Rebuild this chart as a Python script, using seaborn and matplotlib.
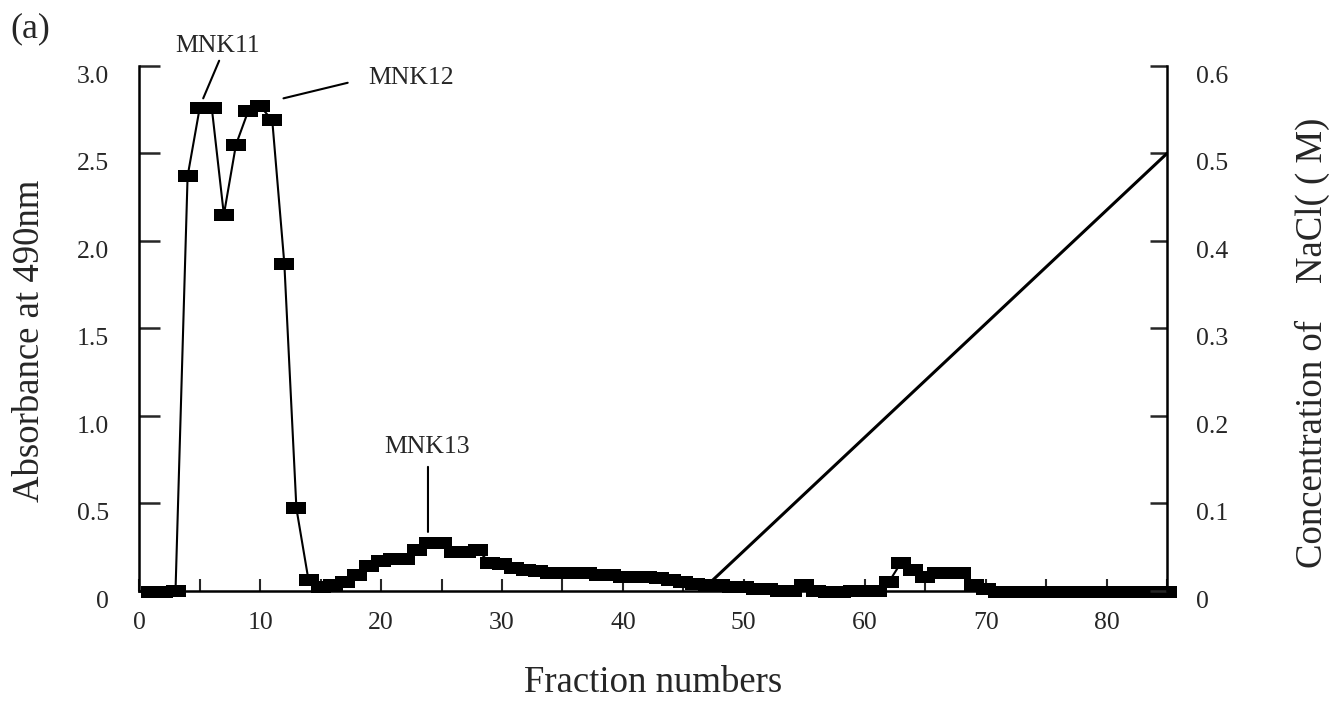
import matplotlib
matplotlib.use("Agg")
import matplotlib.pyplot as plt
import matplotlib.transforms as mtransforms
import seaborn as sns
import pandas as pd

# absorbance at 490 nm for each fraction
fraction = list(range(1, 86))
absorbance = [-0.01, -0.01, 0.0, 2.37, 2.76, 2.76, 2.15, 2.55, 2.74, 2.77,
              2.69, 1.87, 0.47, 0.06, 0.02, 0.03, 0.05, 0.09, 0.14, 0.17,
              0.18, 0.18, 0.23, 0.27, 0.27, 0.22, 0.22, 0.23, 0.16, 0.15,
              0.13, 0.12, 0.11, 0.10, 0.10, 0.10, 0.10, 0.09, 0.09, 0.08,
              0.08, 0.08, 0.07, 0.06, 0.05, 0.04, 0.03, 0.03, 0.02, 0.02,
              0.01, 0.01, 0.0, 0.0, 0.03, 0.0, -0.01, -0.01, 0.0, 0.0,
              0.0, 0.05, 0.16, 0.12, 0.08, 0.10, 0.10, 0.10, 0.03, 0.01,
              -0.01, -0.01, -0.01, -0.01, -0.01, -0.01, -0.01, -0.01, -0.01, -0.01,
              -0.01, -0.01, -0.01, -0.01, -0.01]

# NaCl gradient
nacl_fraction = [46.5, 85]
nacl_conc = [0.0, 0.5]

left_ticks = [0, 0.5, 1.0, 1.5, 2.0, 2.5, 3.0]
left_labels = ["0", "0.5", "1.0", "1.5", "2.0", "2.5", "3.0"]
right_ticks = [0, 0.1, 0.2, 0.3, 0.4, 0.5, 0.6]
right_labels = ["0", "0.1", "0.2", "0.3", "0.4", "0.5", "0.6"]

sns.set_theme(style="white")
plt.rcParams['font.family'] = ['Liberation Serif', 'DejaVu Serif']

df = pd.DataFrame({'fraction': fraction, 'abs': absorbance})
df2 = pd.DataFrame({'fraction': nacl_fraction, 'nacl': nacl_conc})

fig, ax = plt.subplots(figsize=(13.44, 7.08), dpi=100)
fig.subplots_adjust(left=0.1036, right=0.8683, bottom=0.1657, top=0.9068)

marker = [(-1, -0.6), (1, -0.6), (1, 0.6), (-1, 0.6)]
sns.lineplot(data=df, x='fraction', y='abs', ax=ax, color='black', linewidth=1.5,
             marker=marker, markersize=15, markeredgewidth=0,
             errorbar=None, clip_on=False)

ax2 = ax.twinx()
sns.lineplot(data=df2, x='fraction', y='nacl', ax=ax2, color='black', linewidth=2.2,
             errorbar=None)

ax.set_xlim(0, 85)
ax.set_ylim(0, 3.0)
ax2.set_ylim(0, 0.6)

ax.set_xticks(list(range(0, 86, 5)))
ax.set_xticklabels([str(v) if v % 10 == 0 else "" for v in range(0, 86, 5)])
ax.set_yticks(left_ticks)
ax.set_yticklabels(left_labels)
ax2.set_yticks(right_ticks)
ax2.set_yticklabels(right_labels)

ax.tick_params(axis='x', direction='in', length=9, width=1.5, pad=15, labelsize=18.5,
               bottom=True)
ax.tick_params(axis='y', direction='in', length=15, width=1.8, pad=22, labelsize=18.5,
               left=True)
ax2.tick_params(axis='y', direction='in', length=12, width=1.8, pad=21, labelsize=18.5,
                right=True)

# the y tick labels sit a little below their ticks in the original
shift = mtransforms.ScaledTranslation(0, -6 / 72, fig.dpi_scale_trans)
for lab in ax.get_yticklabels() + ax2.get_yticklabels():
    lab.set_transform(lab.get_transform() + shift)

for a in (ax, ax2):
    a.spines['top'].set_visible(False)
    for s in ('left', 'right', 'bottom'):
        a.spines[s].set_linewidth(1.8)
        a.spines[s].set_color('black')
ax.spines['right'].set_visible(False)
ax2.spines['left'].set_visible(False)
ax2.spines['bottom'].set_visible(False)

ax.set_xlabel("Fraction numbers", fontsize=26.5, va='center')
ax.xaxis.set_label_coords(0.5, -0.176)
ax.set_ylabel("Absorbance at 490nm", fontsize=26.5, va='center')
ax.yaxis.set_label_coords(-0.1064, 0.476)
ax2.set_ylabel("Concentration of    NaCl( ( M)", fontsize=26.5, va='center')
ax2.yaxis.set_label_coords(1.141, 0.472)

# peak labels
for txt, tx, ty, x0, y0, x1, y1 in [("MNK11", 6.46, 3.116, 6.61, 3.03, 5.29, 2.815),
                                    ("MNK12", 22.5, 2.93, 17.24, 2.904, 11.93, 2.815),
                                    ("MNK13", 23.8, 0.82, 23.88, 0.708, 23.88, 0.336)]:
    ax.text(tx, ty, txt, ha='center', va='center', fontsize=18.5)
    ax.annotate("", xy=(x1, y1), xytext=(x0, y0), annotation_clip=False,
                arrowprops=dict(arrowstyle='-', color='black', lw=1.5,
                                shrinkA=0, shrinkB=0))

fig.text(30 / 1344, 1 - 29 / 708, "(a)", ha='center', va='center', fontsize=26)

fig.savefig("out.png", dpi=100)
